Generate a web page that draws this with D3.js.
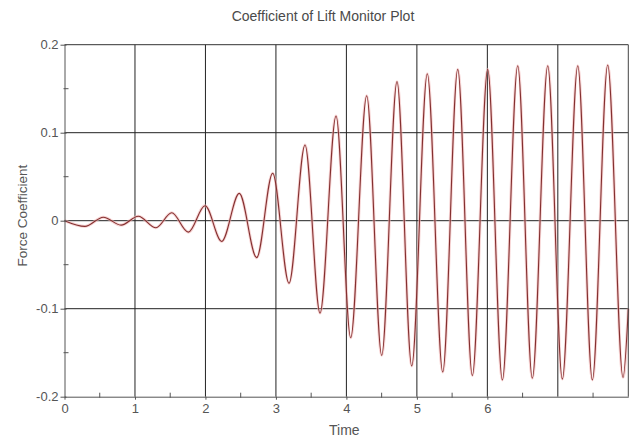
<!DOCTYPE html>
<html><head><meta charset="utf-8">
<script src="https://cdn.jsdelivr.net/npm/d3@7"></script>
<style>
html,body{margin:0;padding:0;background:#fff;}
text{font-family:"Liberation Sans",Arial,sans-serif;}
</style></head>
<body><svg id="c" width="640" height="438"></svg>
<script>
const title = "Coefficient of Lift Monitor Plot";
const xLabel = "Time";
const yLabel = "Force Coefficient";
const xTicks = [0,1,2,3,4,5,6];
const xGrid = [1,2,3,4,5,6,7];
const yTicks = [-0.2,-0.1,0,0.1,0.2];
const yTickLabels = ["-0.2","-0.1","0","0.1","0.2"];
// extrema of the lift signal
const times = [0,0.291,0.551,0.802,1.047,1.298,1.521,1.757,1.994,2.231,2.480,2.727,2.954,3.186,3.413,3.626,3.853,4.061,4.288,4.501,4.718,4.927,5.148,5.367,5.580,5.787,6.005,6.213,6.431,6.638,6.857,7.064,7.283,7.490,7.708,7.925,8.0];
const cl = [0,-0.0065,0.004,-0.005,0.005,-0.008,0.009,-0.013,0.017,-0.0235,0.031,-0.042,0.054,-0.071,0.086,-0.105,0.119,-0.133,0.142,-0.153,0.158,-0.165,0.167,-0.172,0.172,-0.176,0.172,-0.181,0.176,-0.179,0.176,-0.180,0.176,-0.181,0.177,-0.178,-0.10];

const svg = d3.select("#c");
const L=64.5, R=628.3, T=44.7, B=396.7;
const x = d3.scaleLinear().domain([0,8]).range([L,R]);
const y = d3.scaleLinear().domain([-0.2,0.2]).range([B,T]);

svg.append("text").attr("x",323).attr("y",20.5).attr("text-anchor","middle")
  .attr("font-size",14).attr("fill","#4a4a4a").text(title);

// grid
const g = svg.append("g");
g.selectAll("line.vx").data(xGrid).join("line")
  .attr("x1",d=>x(d)).attr("x2",d=>x(d)).attr("y1",T).attr("y2",B)
  .attr("stroke","#222").attr("stroke-width",1);
g.selectAll("line.hy").data([-0.1,0,0.1]).join("line")
  .attr("x1",L).attr("x2",R).attr("y1",d=>y(d)).attr("y2",d=>y(d))
  .attr("stroke","#222").attr("stroke-width",1);

// curve
const pts = times.map((t,i)=>[t,cl[i]]);
const line = d3.line().x(d=>x(d[0])).y(d=>y(d[1])).curve(d3.curveMonotoneX);
svg.append("path").attr("d",line(pts)).attr("fill","none")
  .attr("stroke","#f2b8b8").attr("stroke-width",3).attr("opacity",0.6);
svg.append("path").attr("d",line(pts)).attr("fill","none")
  .attr("stroke","#843030").attr("stroke-width",1.1);

// frame
svg.append("line").attr("x1",L).attr("x2",R).attr("y1",T).attr("y2",T).attr("stroke","#333");
svg.append("line").attr("x1",R).attr("x2",R).attr("y1",T).attr("y2",B).attr("stroke","#444");

// x axis
const xAxis = d3.axisBottom(x).tickValues(xTicks).tickFormat(d3.format("d")).tickSize(3).tickSizeOuter(0);
const xa = svg.append("g").attr("transform",`translate(0,${B})`).call(xAxis);
xa.select(".domain").attr("stroke","#555");
xa.selectAll(".tick line").attr("stroke","#555");
xa.selectAll(".tick text").attr("font-size",13).attr("fill","#555").attr("font-family","Liberation Sans, Arial, sans-serif").attr("dy","0.8em");
svg.append("g").selectAll("line").data(d3.range(0.5,8,1)).join("line")
  .attr("x1",d=>x(d)).attr("x2",d=>x(d)).attr("y1",B-4).attr("y2",B+1).attr("stroke","#555");

// y axis
const yAxis = d3.axisLeft(y).tickValues(yTicks).tickFormat((d,i)=>yTickLabels[i]).tickSize(4).tickSizeOuter(0);
const ya = svg.append("g").attr("transform",`translate(${L},0)`).call(yAxis);
ya.select(".domain").attr("stroke","#555");
ya.selectAll(".tick line").attr("stroke","#555").attr("x2",-4).attr("x1",2);
ya.selectAll(".tick text").attr("font-size",13).attr("fill","#555").attr("font-family","Liberation Sans, Arial, sans-serif").attr("x",-6);
svg.append("g").selectAll("line").data([-0.15,-0.05,0.05,0.15]).join("line")
  .attr("x1",L-1).attr("x2",L+4).attr("y1",d=>y(d)).attr("y2",d=>y(d)).attr("stroke","#555");

svg.append("text").attr("x",x(3.97)).attr("y",435).attr("text-anchor","middle")
  .attr("font-size",14).attr("fill","#555").text(xLabel);
svg.append("text").attr("transform",`translate(27,${y(0)-5}) rotate(-90)`).attr("text-anchor","middle")
  .attr("font-size",13.5).attr("fill","#555").text(yLabel);
</script></body></html>
